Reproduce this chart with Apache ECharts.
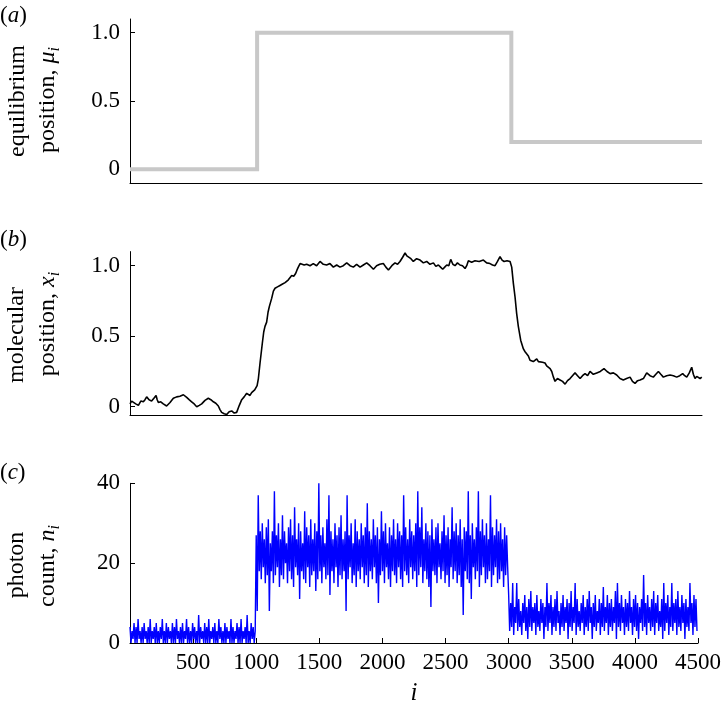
<!DOCTYPE html>
<html>
<head>
<meta charset="utf-8">
<script src="https://cdn.jsdelivr.net/npm/echarts@6/dist/echarts.min.js"></script>
<style>
html,body{margin:0;padding:0;background:#fff;}
#chart{width:724px;height:707px;}
</style>
</head>
<body>
<div id="chart"></div>
<script>
// ---- Panel (a): equilibrium position (step function) ----
const muIndex = [0, 1000, 3000, 4500];
const muValue = [0, 1, 0.2, 0.2];

// ---- Panel (b): molecular position, [frame i, x_i] ----
const positionSamples = [
[0,0.02],[13,0.04],[26,0.05],[45,0.02],[66,0.01],[85,0.04],[105,0.035],[118,0.05],[131,0.07],[150,0.05],
[170,0.04],[188,0.06],[205,0.08],[214,0.05],[223,0.03],[242,0.035],[262,0.02],[275,0.03],[288,0.005],[315,0.03],
[341,0.06],[367,0.07],[393,0.075],[420,0.085],[446,0.066],[465,0.05],[485,0.035],[505,0.02],[525,0],[545,0.01],
[564,0.02],[590,0.045],[616,0.06],[636,0.05],[656,0.035],[675,0.025],[695,0.005],[708,-0.02],[721,-0.04],[741,-0.05],
[761,-0.055],[780,-0.035],[800,-0.03],[820,-0.045],[839,-0.04],[860,0.01],[879,0.05],[898,0.07],[918,0.095],[931,0.085],
[944,0.08],[957,0.1],[970,0.105],[981,0.12],[991,0.13],[1000,0.15],[1010,0.2],[1023,0.31],[1041,0.45],[1052,0.53],
[1062,0.57],[1075,0.6],[1086,0.67],[1096,0.71],[1115,0.77],[1128,0.82],[1141,0.84],[1160,0.85],[1180,0.86],[1200,0.87],
[1220,0.88],[1233,0.875],[1246,0.9],[1259,0.91],[1272,0.93],[1288,0.925],[1303,0.945],[1314,0.97],[1324,0.99],[1338,1.015],
[1351,1.02],[1370,1.005],[1390,1.01],[1416,1.0],[1442,1.015],[1468,1.0],[1495,1.03],[1521,1.01],[1547,1.005],[1573,1.015],
[1600,0.99],[1626,1.005],[1652,0.99],[1678,1.0],[1705,1.02],[1731,1.0],[1757,0.99],[1783,1.01],[1810,0.99],[1836,1.005],
[1862,1.02],[1888,1.0],[1915,0.975],[1940,1.0],[1965,1.01],[1993,1.015],[2013,0.99],[2033,0.97],[2060,1.0],[2085,1.02],
[2105,1.01],[2124,1.03],[2145,1.06],[2164,1.09],[2178,1.07],[2190,1.08],[2210,1.05],[2229,1.03],[2255,1.05],[2282,1.04],
[2308,1.02],[2334,1.03],[2360,1.01],[2387,1.02],[2406,0.995],[2426,1.005],[2443,0.99],[2460,0.975],[2476,0.99],[2492,1.005],
[2508,1.0],[2523,1.045],[2540,1.01],[2557,1.0],[2576,1.02],[2596,1.005],[2616,1.0],[2636,0.98],[2649,1.0],[2662,1.035],
[2688,1.025],[2714,1.035],[2747,1.03],[2780,1.04],[2806,1.02],[2832,1.015],[2852,1.005],[2872,1.0],[2891,1.03],[2911,1.065],
[2927,1.04],[2943,1.03],[2966,1.035],[2990,1.03],[3003,0.99],[3016,0.875],[3029,0.78],[3042,0.66],[3055,0.57],[3074,0.47],
[3095,0.41],[3108,0.39],[3121,0.38],[3134,0.36],[3147,0.33],[3160,0.34],[3173,0.32],[3186,0.33],[3200,0.34],[3213,0.32],
[3226,0.33],[3245,0.315],[3265,0.31],[3278,0.29],[3291,0.28],[3305,0.27],[3318,0.25],[3331,0.21],[3344,0.18],[3363,0.2],
[3383,0.19],[3403,0.18],[3423,0.16],[3442,0.185],[3462,0.2],[3481,0.22],[3501,0.24],[3521,0.22],[3541,0.2],[3560,0.22],
[3580,0.235],[3600,0.22],[3619,0.25],[3645,0.23],[3672,0.24],[3700,0.25],[3729,0.27],[3753,0.25],[3777,0.235],[3803,0.24],
[3829,0.225],[3855,0.2],[3881,0.19],[3907,0.2],[3934,0.21],[3953,0.18],[3973,0.165],[3993,0.185],[4013,0.19],[4039,0.2],
[4065,0.24],[4091,0.22],[4117,0.21],[4137,0.23],[4157,0.25],[4176,0.23],[4196,0.21],[4222,0.22],[4249,0.225],[4275,0.22],
[4301,0.21],[4325,0.22],[4348,0.235],[4364,0.22],[4380,0.21],[4400,0.24],[4419,0.28],[4432,0.23],[4445,0.2],[4458,0.215],
[4472,0.21],[4485,0.2],[4498,0.21]
];

// ---- Panel (c): photon counts (estimated, sampled every ~8 frames) ----
const photonRanges = [[0, 1000], [1000, 3000], [3000, 4500]];
const photonSeg1 = [4,0,3,1,5,0,4,0,6,1, 3,0,4,0,5,1,3,0,4,0, 6,0,3,1,4,0,5,0,3,0,
4,1,6,0,3,0,5,0,4,1, 3,0,5,0,4,0,6,1,3,0, 4,0,5,0,3,1,6,0,4,0,
3,0,5,1,4,0,3,0,7,0, 4,1,3,0,5,0,4,0,6,0, 3,1,4,0,5,0,3,0,6,1,
4,0,3,0,5,0,4,1,3,0, 6,0,4,0,3,1,5,0,4,0, 6,0,3,1,4,0,7,0,3,0, 5,1,4,0,3];
const photonSeg2 = [27,8,37,18,28,16,30,19,26,15, 29,17,31,8,25,18,28,15,38,17,
27,19,30,14,26,17,32,16,28,20, 25,15,29,18,31,16,27,14,34,19,
26,17,30,11,28,18,25,16,33,15, 29,19,27,14,31,17,26,18,30,13,
28,16,40,18,27,15,29,19,25,16, 31,17,37,12,28,18,26,15,30,19,
27,14,29,17,32,16,26,18,28,8, 37,16,27,19,30,15,25,17,31,14,
28,18,26,16,30,19,27,15,29,17, 35,14,28,18,26,16,31,19,27,15,
29,10,26,17,33,18,28,15,30,19, 25,16,29,14,27,18,31,17,26,15,
30,19,28,16,27,14,37,18,29,17, 26,15,31,19,28,16,27,18,30,14,
38,17,29,19,34,15,26,18,30,16, 28,14,27,9,31,18,26,17,29,15,
30,19,25,16,28,18,32,15,27,17, 29,14,26,19,34,16,28,18,30,15,
27,17,31,14,26,7,29,18,28,16, 38,15,27,11,30,19,26,16,29,18,
38,14,28,17,31,19,27,15,30,16, 26,18,37,14,29,17,27,19,31,15,
28,16,30,18,26,14,29,17,27,19];
const photonSeg3 = [12,3,10,4,15,2,9,5,15,3, 11,4,8,2,10,5,12,3,9,1,
11,4,13,3,9,5,10,2,12,4, 8,3,11,5,10,1,9,4,15,3, 10,5,12,2,9,4,11,3,13,5,
8,2,10,4,12,3,9,5,11,1, 10,4,13,3,9,5,15,2,11,4, 8,3,10,5,12,2,9,4,11,3,
13,5,9,1,10,4,12,3,8,5, 11,2,10,4,14,3,9,5,12,2, 10,4,11,3,9,5,13,1,15,4,
10,3,12,5,9,2,11,4,10,3, 13,5,9,2,11,4,12,3,10,1, 9,5,11,3,17,4,10,2,12,5,
9,3,11,4,13,2,10,5,12,3, 8,4,11,1,15,3,10,5,12,2, 9,4,15,3,10,5,11,2,13,4,
9,3,12,5,10,1,11,4,9,3, 15,5,10,2,12,4,11,3];

const posTicks = [0, 0.5, 1];

// ---- build series data ----
const muData = muIndex.map((x, k) => [x, muValue[k]]);
function spread(vals, range) {
  const step = (range[1] - range[0]) / vals.length;
  return vals.map((v, k) => [range[0] + k * step, v]);
}
const photonData = [].concat(
  spread(photonSeg1, photonRanges[0]),
  spread(photonSeg2, photonRanges[1]),
  spread(photonSeg3, photonRanges[2])
);

const FONT = "'Liberation Serif', 'Times New Roman', Times, serif";
const labelStyle = { fontFamily: FONT, fontSize: 23, color: '#000' };
const fmtPos = v => (v === 0 ? '0' : v.toFixed(1));

const grids = [
  { left: 130, right: 22, top: 19, height: 164 },
  { left: 130, right: 22, top: 251.6, height: 163.6 },
  { left: 130, right: 22, top: 483.3, height: 163.4 }
];

function xAxisFor(idx, showLabels) {
  return {
    type: 'value', gridIndex: idx, min: 0, max: 4500, interval: 500,
    axisLine: { show: true, onZero: false, lineStyle: { color: '#000', width: 1 } },
    axisTick: { show: showLabels, inside: true, length: 5, lineStyle: { color: '#000' } },
    axisLabel: showLabels ? Object.assign({ margin: 8, formatter: v => (v === 0 ? '' : String(v)), showMinLabel: false }, labelStyle) : { show: false },
    splitLine: { show: false },
    name: showLabels ? 'i' : '',
    nameLocation: 'middle', nameGap: 38,
    nameTextStyle: { fontFamily: FONT, fontSize: 25, fontStyle: 'italic', color: '#000' }
  };
}

function posYAxis(idx, min) {
  return {
    type: 'value', gridIndex: idx, min: min, max: 1.1,
    axisLine: { show: true, onZero: false, lineStyle: { color: '#000', width: 1 } },
    axisTick: { show: true, inside: true, length: 5, customValues: posTicks, lineStyle: { color: '#000' } },
    axisLabel: Object.assign({ margin: 10, customValues: posTicks, formatter: fmtPos }, labelStyle),
    splitLine: { show: false }
  };
}

const option = {
  animation: false,
  backgroundColor: '#fff',
  grid: grids,
  xAxis: [xAxisFor(0, false), xAxisFor(1, false), xAxisFor(2, true)],
  yAxis: [
    posYAxis(0, -0.1),
    posYAxis(1, -0.06),
    {
      type: 'value', gridIndex: 2, min: 0, max: 40, interval: 20,
      axisLine: { show: true, onZero: false, lineStyle: { color: '#000', width: 1 } },
      axisTick: { show: true, inside: true, length: 5, lineStyle: { color: '#000' } },
      axisLabel: Object.assign({ margin: 10 }, labelStyle),
      splitLine: { show: false }
    }
  ],
  series: [
    {
      type: 'line', xAxisIndex: 0, yAxisIndex: 0, data: muData, step: 'end',
      symbol: 'none', lineStyle: { color: '#c8c8c8', width: 4, join: 'miter' }
    },
    {
      type: 'line', xAxisIndex: 1, yAxisIndex: 1, data: positionSamples,
      symbol: 'none', lineStyle: { color: '#000', width: 1.6 }
    },
    {
      type: 'line', xAxisIndex: 2, yAxisIndex: 2, data: photonData,
      symbol: 'none', lineStyle: { color: '#0000ff', width: 1.4 }
    }
  ],
  graphic: []
};

function panelLetter(letter, y) {
  return {
    type: 'text', x: 0, y: y,
    style: {
      text: '{p|(}{l|' + letter + '}{p|)}',
      align: 'left', verticalAlign: 'middle',
      rich: {
        p: { fontFamily: FONT, fontSize: 23, fill: '#000' },
        l: { fontFamily: FONT, fontSize: 23, fontStyle: 'italic', fill: '#000' }
      }
    }
  };
}
function titleLine(text, x, y) {
  return {
    type: 'text', x: x, y: y, rotation: Math.PI / 2,
    style: {
      text: text, align: 'center', verticalAlign: 'middle',
      rich: {
        n: { fontFamily: FONT, fontSize: 24, fill: '#000', lineHeight: 30 },
        m: { fontFamily: FONT, fontSize: 24, fontStyle: 'italic', fill: '#000', lineHeight: 30 },
        s: { fontFamily: FONT, fontSize: 16, fontStyle: 'italic', fill: '#000', lineHeight: 16, verticalAlign: 'bottom' }
      }
    }
  };
}
option.graphic = [
  panelLetter('a', 16),
  panelLetter('b', 240),
  panelLetter('c', 473),
  titleLine('{n|equilibrium}', 18, 101),
  titleLine('{n|position, }{m|μ}{s|i}', 48, 100),
  titleLine('{n|molecular}', 17, 335),
  titleLine('{n|position, }{m|x}{s|i}', 48, 324),
  titleLine('{n|photon}', 17, 565),
  titleLine('{n|count, }{m|n}{s|i}', 48, 566)
];

const chart = echarts.init(document.getElementById('chart'), null, { renderer: 'canvas' });
chart.setOption(option);
</script>
</body>
</html>
